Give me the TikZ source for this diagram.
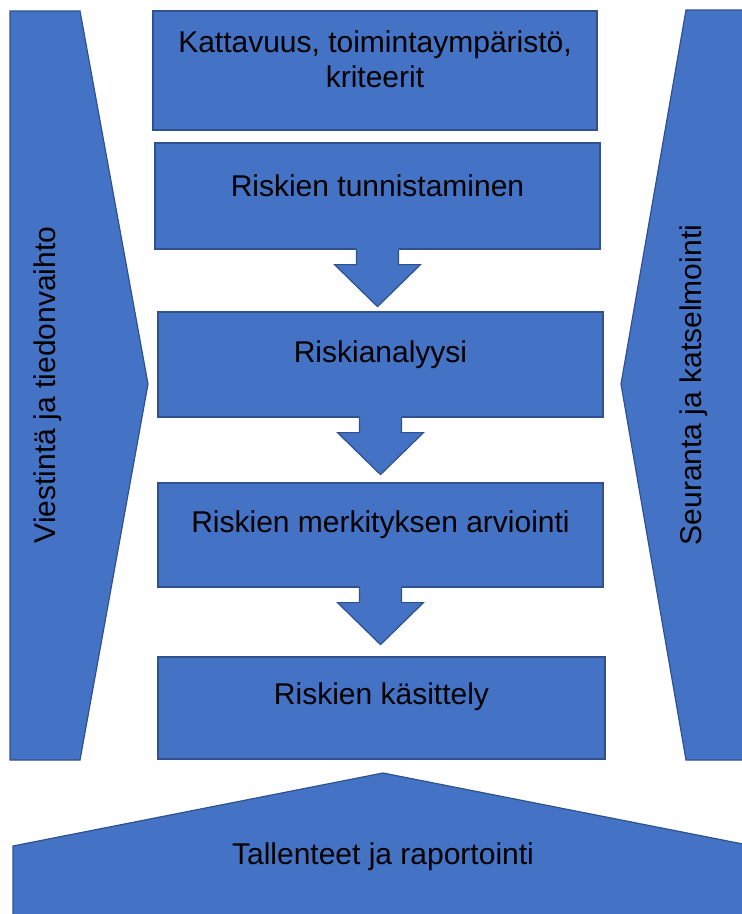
\documentclass[tikz,border=0pt]{standalone}
\usepackage{fontspec}
\setmainfont{Liberation Sans}
\usetikzlibrary{calc}
\definecolor{fillblue}{HTML}{4472C4}
\definecolor{edgeblue}{HTML}{2F528F}
\newcommand\blockarrowdown[1]{%
  \fill[fillblue] ($(#1.south)+(-21,-2)$) -- ($(#1.south)+(-21,15)$) -- ($(#1.south)+(-43,15)$)
    -- ($(#1.south)+(0,57)$) -- ($(#1.south)+(43,15)$) -- ($(#1.south)+(21,15)$) -- ($(#1.south)+(21,-2)$) -- cycle;
  \draw[outline] ($(#1.south)+(-21,0)$) -- ($(#1.south)+(-21,15)$) -- ($(#1.south)+(-43,15)$)
    -- ($(#1.south)+(0,57)$) -- ($(#1.south)+(43,15)$) -- ($(#1.south)+(21,15)$) -- ($(#1.south)+(21,0)$);}
\begin{document}
\begin{tikzpicture}[x=1pt,y=-1pt,
  outline/.style={draw=edgeblue,line width=1.2pt,line join=miter},
  shapefill/.style={fill=fillblue,outline},
  box/.style={shapefill,rectangle,inner sep=0pt},
  lbl/.style={font=\fontsize{30}{35}\selectfont,align=center,text=black,inner sep=0pt}]
\useasboundingbox (0,0) rectangle (742,914);
\begin{scope}
\clip (0,0) rectangle (742,914);
% side and bottom shapes
\draw[shapefill] (10,11) -- (80,11) -- (148,384) -- (80,760) -- (10,760) -- cycle;
\draw[shapefill] (686,10) -- (760,10) -- (760,760) -- (686,760) -- (621,384) -- cycle;
\draw[shapefill] (13,846) -- (383,773) -- (753,846) -- (753,940) -- (13,940) -- cycle;
\end{scope}
\node[lbl,rotate=90] (tv) at (48,385) {Viestintä ja tiedonvaihto};
\node[lbl,rotate=90] (sk) at (694,385) {Seuranta ja katselmointi};
\node[lbl] (tr) at (383,857) {Tallenteet ja raportointi};
% boxes
\node[box,minimum width=444pt,minimum height=119pt] (b1) at (375,70.5) {};
\node[box,minimum width=445pt,minimum height=106pt] (b2) at (377.5,196) {};
\node[box,minimum width=445pt,minimum height=105pt] (b3) at (380.5,364.5) {};
\node[box,minimum width=445pt,minimum height=104pt] (b4) at (380.5,535) {};
\node[box,minimum width=447pt,minimum height=102pt] (b5) at (381.5,708) {};
\node[lbl] (t1) at ($(b1.center)+(0,-11)$) {Kattavuus, toimintaympäristö,\\kriteerit};
\node[lbl] (t2) at ($(b2.center)+(0,-10)$) {Riskien tunnistaminen};
\node[lbl] (t3) at ($(b3.center)+(0,-10)$) {Riskianalyysi};
\node[lbl] (t4) at ($(b4.center)+(0,-10)$) {Riskien merkityksen arviointi};
\node[lbl] (t5) at ($(b5.center)+(0,-11)$) {Riskien käsittely};
% arrows
\blockarrowdown{b2}
\blockarrowdown{b3}
\blockarrowdown{b4}
\end{tikzpicture}
\end{document}
